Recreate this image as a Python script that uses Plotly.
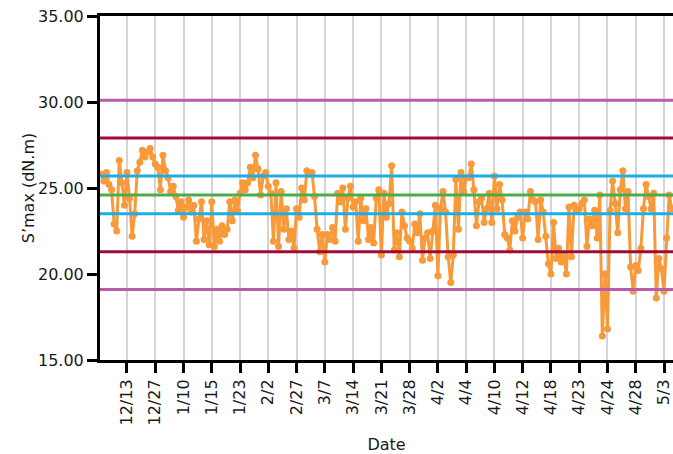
import plotly.graph_objects as go

# ---- data ----
seg_values = [
    [25.8, 25.4, 25.9, 25.2, 24.9, 22.9, 22.5, 26.6, 25.3, 24.0, 25.9],
    [24.4, 22.2, 23.5, 26.0, 26.5, 27.2, 26.8, 27.1, 27.3, 26.8, 26.4],
    [26.2, 24.9, 26.9, 26.0, 25.6, 24.8, 25.1, 24.5, 23.7, 24.2, 23.3],
    [23.9, 24.3, 23.6, 24.0, 21.9, 23.2, 24.2, 22.0, 23.1, 21.7, 24.2],
    [21.6, 22.6, 21.9, 22.8, 22.3, 22.6, 24.2, 23.1, 24.3, 23.7, 24.7],
    [25.3, 24.9, 25.3, 26.2, 25.6, 26.9, 26.1, 24.6, 25.7, 25.9, 25.1],
    [24.7, 21.9, 25.3, 21.6, 24.8, 22.6, 23.8, 22.0, 22.5, 21.5, 23.8],
    [23.3, 25.0, 24.3, 26.0, 25.8, 25.9, 24.5, 22.6, 21.3, 22.3, 20.7],
    [22.3, 22.0, 22.7, 21.9, 24.7, 24.2, 25.0, 22.6, 24.4, 25.1, 23.9],
    [24.2, 21.9, 24.4, 23.1, 23.8, 22.0, 22.7, 21.8, 24.4, 24.9, 21.1],
    [24.7, 23.3, 24.1, 26.3, 21.4, 22.4, 21.0, 23.6, 22.8, 22.1, 21.9],
    [21.5, 22.9, 22.4, 23.5, 20.8, 22.1, 22.4, 20.9, 22.5, 24.0, 19.9],
    [23.8, 24.8, 23.6, 21.0, 19.5, 21.1, 25.5, 22.6, 25.9, 24.8, 25.6],
    [25.6, 26.4, 24.9, 22.8, 24.2, 24.4, 23.0, 23.8, 24.7, 23.0, 25.7],
    [23.8, 25.2, 24.3, 22.3, 22.1, 21.4, 23.1, 22.5, 23.3, 23.6, 22.1],
    [23.6, 23.2, 24.8, 24.3, 24.2, 22.0, 24.3, 23.6, 22.2, 20.6, 20.0],
    [23.0, 20.9, 21.5, 20.7, 21.1, 20.0, 23.9, 21.0, 24.0, 23.7, 23.8],
    [24.1, 24.3, 21.6, 23.2, 22.8, 23.7, 22.1, 24.6, 16.4, 20.0, 16.8],
    [23.7, 25.4, 24.1, 22.4, 24.9, 26.0, 23.8, 24.8, 20.4, 19.0, 20.5],
    [20.2, 21.5, 23.8, 25.2, 24.5, 23.8, 24.7, 18.6, 20.9, 20.3, 19.0],
    [22.1, 24.6, 23.8],
]
smax = [v for seg in seg_values for v in seg]
sample_index = list(range(len(smax)))

tick_labels = ["12/13", "12/27", "1/10", "1/15", "1/23", "2/2", "2/27", "3/7",
               "3/14", "3/21", "3/28", "4/2", "4/4", "4/10", "4/12", "4/18",
               "4/23", "4/24", "4/28", "5/3"]
tick_every = 11
tick_first = 10
tick_positions = [tick_first + tick_every * i for i in range(len(tick_labels))]

mean_value = 24.6
sigma = 1.1
limit_lines = [
    (mean_value + 5 * sigma, "#B95BAA"),
    (mean_value - 5 * sigma, "#B95BAA"),
    (mean_value + 3 * sigma, "#9E0A3B"),
    (mean_value - 3 * sigma, "#9E0A3B"),
    (mean_value + sigma, "#1BAEE5"),
    (mean_value - sigma, "#1BAEE5"),
    (mean_value, "#4CAB4A"),
]

FONT = "DejaVu Sans"

fig = go.Figure()
fig.add_trace(go.Scatter(
    x=sample_index, y=smax, mode="lines+markers",
    line=dict(color="#F89A3A", width=3),
    marker=dict(color="#F89A3A", size=7),
    showlegend=False, hoverinfo="skip",
))
for yv, col in limit_lines:
    fig.add_hline(y=yv, line=dict(color=col, width=3), layer="above")

fig.update_layout(
    width=673, height=454,
    margin=dict(l=100, r=0, t=16, b=94),
    paper_bgcolor="white", plot_bgcolor="white",
    font=dict(family=FONT, color="#1a1a1a", size=16),
    showlegend=False,
)
fig.update_xaxes(
    range=[-0.5, len(smax) - 0.5],
    tickmode="array", tickvals=tick_positions, ticktext=tick_labels,
    tickangle=-90, ticks="outside", ticklen=10, tickwidth=3, tickcolor="black",
    showline=True, linecolor="black", linewidth=3, mirror=True,
    showgrid=True, gridcolor="#D4D4D4", gridwidth=1.5,
    zeroline=False, automargin=False, ticklabeloverflow="allow",
    tickfont=dict(family=FONT, size=16),
    title=dict(text="Date", font=dict(family=FONT, size=16), standoff=19),
)
fig.update_yaxes(
    range=[15, 35], tickmode="array", tickvals=[15, 20, 25, 30, 35],
    tickformat=".2f",
    ticks="outside", ticklen=10, tickwidth=3, tickcolor="black",
    showline=True, linecolor="black", linewidth=3,
    showgrid=False, zeroline=False, automargin=False, ticklabeloverflow="allow",
    tickfont=dict(family=FONT, size=16),
    title=dict(text="S’max (dN.m)", font=dict(family=FONT, size=16), standoff=0),
)

# remove the browser's default 8px page margin so the figure sits at the window origin
fig.write_html("out.html",
               config={"displayModeBar": False},
               post_script="document.body.style.margin='0';"
                           "document.body.style.overflow='hidden';")
